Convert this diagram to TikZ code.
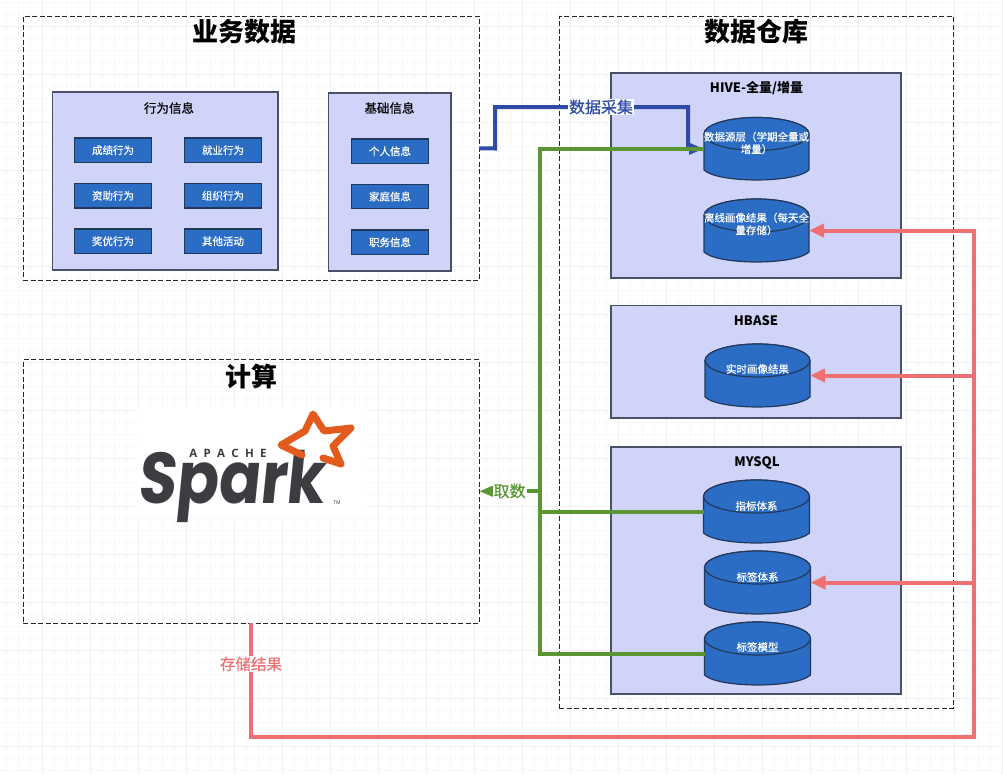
\documentclass[tikz,border=0pt]{standalone}
\usepackage{fontspec}
\setmainfont{Noto Sans CJK SC}
\newfontfamily\semifont[FakeBold=0.6]{Noto Sans CJK SC}
\newfontfamily\sparkfont[FakeStretch=0.86,FakeSlant=0.1]{Poppins}
\newfontfamily\apachefont{Open Sans}
\usetikzlibrary{arrows.meta}
\definecolor{panelfill}{HTML}{D0D4F8}
\definecolor{paneledge}{HTML}{4A5068}
\definecolor{itemfill}{HTML}{2B6CC4}
\definecolor{itemedge}{HTML}{23395B}
\definecolor{bluelink}{HTML}{2F4BA8}
\definecolor{greenlink}{HTML}{5A9632}
\definecolor{redlink}{HTML}{EF7070}
\definecolor{sparkgrey}{HTML}{3E3C40}
\definecolor{sparkorange}{HTML}{E25A1C}
\definecolor{gridminor}{HTML}{F8F8F8}
\definecolor{gridmajor}{HTML}{F1F1F1}
\newcommand{\fs}[1]{\fontsize{#1pt}{#1pt}\selectfont}
\tikzset{
  anybox/.style={anchor=north west,inner sep=0pt,outer sep=0pt},
  container/.style={anybox,draw=black!85,dashed,dash pattern=on 5pt off 2.5pt,line width=1pt},
  panel/.style={anybox,draw=paneledge,fill=panelfill,line width=1.4pt},
  item/.style={anybox,draw=itemedge,fill=itemfill,line width=1.4pt,text=white,font=\semifont\fs{10.5}},
  cylbox/.style={anybox},
  cylshape/.style={draw=itemedge,fill=itemfill,line width=1.2pt},
  cyltext/.style={text=white,font=\semifont\fontsize{10.5pt}{12.5pt}\selectfont,inner sep=0pt,align=center},
  headline/.style={font=\fs{26}\bfseries,inner sep=0pt},
  paneltitle/.style={font=\semifont\fs{12.5},inner sep=0pt},
  hosttitle/.style={font=\fs{13}\bfseries,inner sep=0pt},
  bluewire/.style={draw=bluelink,line width=4pt,-{Triangle[length=15pt,width=11pt]}},
  greenwire/.style={draw=greenlink,line width=4pt},
  redwire/.style={draw=redlink,line width=4pt,line join=miter},
  redtip/.style={redwire,-{Triangle[length=15pt,width=13pt]}},
  wirelabel/.style={fill=white,inner sep=1pt}
}
\newcommand{\placebox}[6]{%
  \pgfmathsetmacro{\bw}{#4-#2}\pgfmathsetmacro{\bh}{#5-#3}%
  \node[#6,minimum width=\bw pt,minimum height=\bh pt] (#1) at (#2,#3) {};}
\newcommand{\itembox}[6]{%
  \pgfmathsetmacro{\bw}{#4-#2}\pgfmathsetmacro{\bh}{#5-#3}%
  \node[item,minimum width=\bw pt,minimum height=\bh pt] (#1) at (#2,#3) {#6};}
\newcommand{\datacyl}[7]{%
  \pgfmathsetmacro{\bw}{#4-#2}\pgfmathsetmacro{\bh}{#5-#3}%
  \pgfmathsetmacro{\cx}{(#2+#4)/2}%
  \pgfmathsetmacro{\rx}{(#4-#2)/2}%
  \pgfmathsetmacro{\ty}{#3+16.5}\pgfmathsetmacro{\by}{#5-10}\pgfmathsetmacro{\cy}{#5+3.3}%
  \node[cylbox,minimum width=\bw pt,minimum height=\bh pt] (#1) at (#2,#3) {};
  \draw[cylshape] (#2,\ty) -- (#2,\by) .. controls (#2+14,\cy) and (#4-14,\cy) .. (#4,\by) -- (#4,\ty)
     arc[start angle=0,end angle=-180,x radius=\rx pt,y radius=-16.5pt] -- cycle;
  \draw[cylshape] (\cx,\ty) ellipse[x radius=\rx pt,y radius=16.5pt];
  \node[cyltext] (#1t) at (\cx,#6) {#7};}
\begin{document}
\begin{tikzpicture}[x=1pt,y=-1pt]
\useasboundingbox (0,0) rectangle (1003,774);
\fill[white] (0,0) rectangle (1003,774);
\foreach \gx in {6,18,...,1003} \draw[gridminor,line width=.8pt] (\gx,0) -- (\gx,774);
\foreach \gy in {2,14,...,774} \draw[gridminor,line width=.8pt] (0,\gy) -- (1003,\gy);
\foreach \gx in {42,90,...,1003} \draw[gridmajor,line width=1pt] (\gx,0) -- (\gx,774);
\foreach \gy in {26,74,...,774} \draw[gridmajor,line width=1pt] (0,\gy) -- (1003,\gy);

\placebox{biz}{23}{16}{479}{280.5}{container}
\placebox{wh}{559}{16}{953}{708}{container}
\placebox{calc}{23}{359.5}{479}{623}{container}
\node[headline] (bizt) at (244,32) {业务数据};
\node[headline] (wht) at (756,32) {数据仓库};
\node[headline] (calct) at (251,377) {计算};

\placebox{behav}{52.5}{92}{278}{270}{panel}
\placebox{basic}{328.5}{93}{451}{271}{panel}
\node[paneltitle] (behavt) at (169,108) {行为信息};
\node[paneltitle] (basict) at (389.5,108) {基础信息};
\itembox{i1}{74.5}{138}{151.5}{162.5}{成绩行为}
\itembox{i2}{184.5}{138}{261.5}{162.5}{就业行为}
\itembox{i3}{74.5}{183.5}{151.5}{208}{资助行为}
\itembox{i4}{184.5}{183.5}{261.5}{208}{组织行为}
\itembox{i5}{74.5}{229}{151.5}{253.5}{奖优行为}
\itembox{i6}{184.5}{229}{261.5}{253.5}{其他活动}
\itembox{i7}{351.5}{139}{428.5}{163.5}{个人信息}
\itembox{i8}{351.5}{184.5}{428.5}{208.5}{家庭信息}
\itembox{i9}{351.5}{230}{428.5}{254.5}{职务信息}

\placebox{hive}{611}{73}{901}{278}{panel}
\placebox{hbase}{611}{305.5}{901}{418}{panel}
\placebox{mysql}{611}{447}{901}{694}{panel}
\node[hosttitle] (hivet) at (756.5,88) {HIVE-全量/增量};
\node[hosttitle] (hbaset) at (756,320.5) {HBASE};
\node[hosttitle] (mysqlt) at (757,462.5) {MYSQL};

\coordinate (b1) at (495,148.5);
\coordinate (b2) at (688,107);
\coordinate (g1) at (540,149);
\coordinate (r1) at (974,737);

\datacyl{src}{704}{117.5}{809}{180}{143}{数据源层（学期全量或\\增量）}
\datacyl{off}{704}{199}{809}{262}{224}{离线画像结果（每天全\\量存储）}
\datacyl{rt}{705}{344}{810}{407}{369}{实时画像结果}
\datacyl{idx}{703.5}{480}{809.5}{543}{506}{指标体系}
\datacyl{tag}{704.5}{551}{810.5}{614}{577}{标签体系}
\datacyl{model}{704.5}{622}{810.5}{685}{647}{标签模型}

\draw[bluewire] (biz.east) -- (b1) |- (b2) |- (src.west);
\node[wirelabel,text=bluelink,font=\semifont\fs{16}] (collect) at (601,107) {数据采集};
\draw[greenwire] (src.west) -| (g1) |- (model.west);
\draw[greenwire] (idx.west) -- (idx.west -| g1);
\draw[greenwire,-{Triangle[length=15pt,width=11pt]}] (g1 |- calc.east) -- (calc.east);
\node[wirelabel,text=greenlink,font=\semifont\fs{16}] (fetch) at (509.5,491) {取数};
\draw[redtip] (calc.south) |- (r1) |- (off.east);
\draw[redtip] (r1 |- rt.east) -- (rt.east);
\draw[redtip] (r1 |- tag.east) -- (tag.east);
\node[wirelabel,text=redlink,font=\semifont\fs{15.5}] (store) at (251,664) {存储结果};

\fill[white] (137,407) rectangle (367,518);
\node[inner sep=0pt,anchor=base west,text=sparkgrey,font=\sparkfont\bfseries\fs{72}] (spark) at (137,503) {Spark};
\node[inner sep=0pt,text=sparkgrey,font=\apachefont\bfseries\fs{11.5}] (apache) at (228,453) {A\hspace{6.3pt}P\hspace{6.3pt}A\hspace{6.3pt}C\hspace{6.3pt}H\hspace{6.3pt}E};
\node[inner sep=0pt,text=sparkgrey,font=\apachefont\fs{5}] (tm) at (337,503) {TM};
\draw[sparkorange,line width=7pt,line join=round,line cap=round]
  (302,455) -- (281,445) -- (305,431) -- (313,414) -- (324,431) -- (351,428) -- (333,446) -- (341,464) -- (323,458);
\end{tikzpicture}
\end{document}
